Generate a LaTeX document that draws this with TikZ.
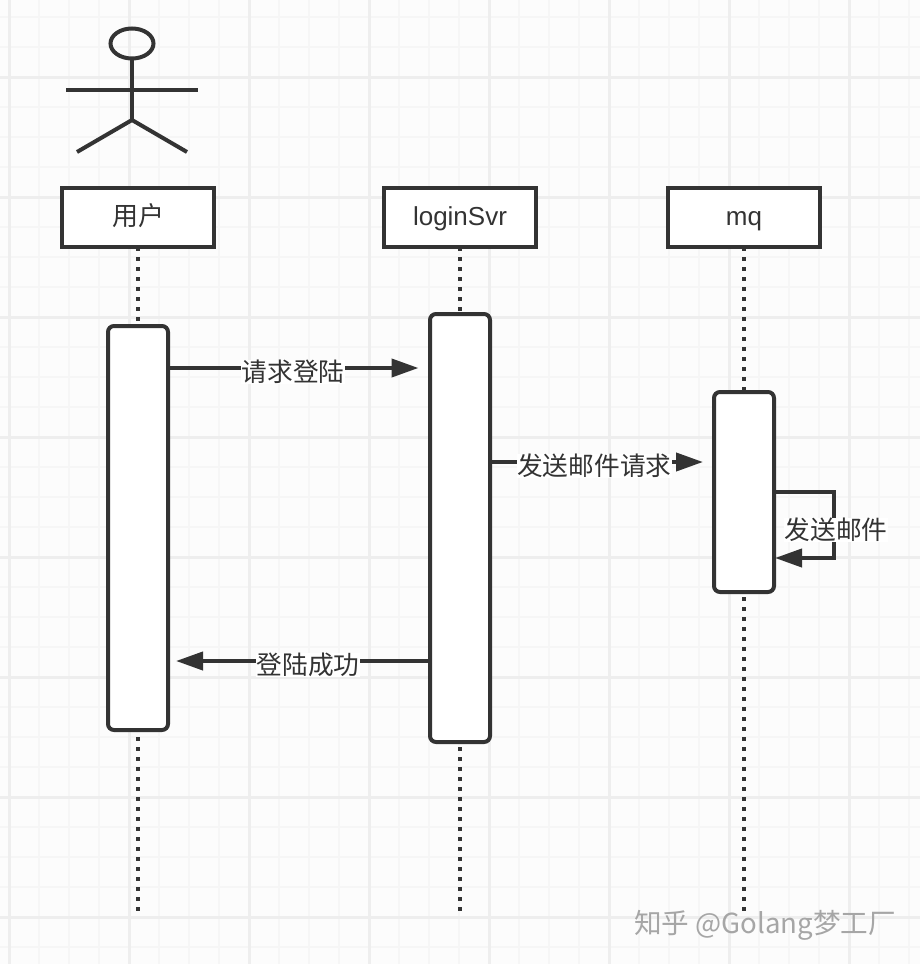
\documentclass[tikz,border=0pt]{standalone}
\usepackage{fontspec}
\setmainfont{Liberation Sans}
\newfontfamily\cjk{Noto Sans CJK SC}
\usetikzlibrary{arrows.meta,shapes.geometric}
\definecolor{inkgray}{HTML}{333333}
\definecolor{gridmajor}{HTML}{EEEEEE}
\definecolor{gridminor}{HTML}{F6F6F6}
\tikzset{
  headbox/.style={draw=inkgray, line width=4pt, fill=white, minimum width=152pt, minimum height=59pt, inner sep=0pt, outer sep=0pt, text=inkgray, text height=21pt, text depth=6pt, font=\fontsize{26}{30}\selectfont},
  actbar/.style={draw=inkgray, line width=4pt, fill=white, rounded corners=6pt, minimum width=60pt, inner sep=0pt, outer sep=0pt},
  lifeline/.style={draw=inkgray, line width=4pt, dash pattern=on 4pt off 6pt},
  msgline/.style={draw=inkgray, line width=4pt, -{Triangle[length=27pt,width=18pt]}},
  msglabel/.style={fill=white, text=inkgray, inner sep=0.5pt, yshift=-4pt, font=\fontsize{25.7}{30}\selectfont\cjk},
  stickline/.style={draw=inkgray, line width=4pt}
}
\begin{document}
\begin{tikzpicture}[x=1pt,y=-1pt]
   \useasboundingbox (0,0) rectangle (920,964);
   \fill[white!99!black] (0,0) rectangle (920,964);
   \foreach \x in {9,39,...,909} \draw[gridminor, line width=2pt] (\x,0) -- (\x,964);
   \foreach \y in {17,47,...,947} \draw[gridminor, line width=2pt] (0,\y) -- (920,\y);
   \foreach \x in {9,129,...,849} \draw[gridmajor, line width=3pt] (\x,0) -- (\x,964);
   \foreach \y in {77,197,...,917} \draw[gridmajor, line width=3pt] (0,\y) -- (920,\y);

   \node[stickline, ellipse, minimum width=43pt, minimum height=30pt, inner sep=0pt, outer sep=0pt] (head) at (132,43.5) {};
   \coordinate (hip) at (132,120);
   \coordinate (armL) at (66,90);
   \coordinate (armR) at (198,90);
   \coordinate (legL) at (77,152);
   \coordinate (legR) at (187,152);
   \draw[stickline] (head) -- (hip);
   \draw[stickline] (armL) -- (armR);
   \draw[stickline] (legL) -- (hip) -- (legR);

   \node[headbox] (userBox) at (138,217.5) {\cjk 用户};
   \node[headbox] (loginBox) at (460,217.5) {loginSvr};
   \node[headbox] (mqBox) at (744,217.5) {mq};

   \coordinate (userEnd) at (138,912);
   \coordinate (loginEnd) at (460,912);
   \coordinate (mqEnd) at (744,912);
   \draw[lifeline] (userBox.south) -- (userEnd);
   \draw[lifeline] (loginBox.south) -- (loginEnd);
   \draw[lifeline] (mqBox.south) -- (mqEnd);

   \node[actbar, minimum height=404pt] (userBar) at (138,528) {};
   \node[actbar, minimum height=428pt] (loginBar) at (460,528) {};
   \node[actbar, minimum height=200pt] (mqBar) at (744,492) {};

   \coordinate (reqEnd) at (418.5,368);
   \coordinate (mailEnd) at (703,462);
   \coordinate (okEnd) at (176,661);
   \coordinate (loopTop) at (834,492);
   \coordinate (loopBottom) at (834,558);
   \coordinate (loopEnd) at (775,558);

   \draw[msgline] (userBar.east |- reqEnd) -- node[msglabel] (reqLabel) {请求登陆} (reqEnd);
   \draw[msgline] (loginBar.east |- mailEnd) -- node[msglabel, pos=0.49] (mailLabel) {发送邮件请求} (mailEnd);
   \draw[msgline] (loginBar.west |- okEnd) -- node[msglabel, pos=0.48] (okLabel) {登陆成功} (okEnd);
   \draw[msgline] (mqBar.east |- loopTop) -- (loopTop) -- (loopBottom) -- (loopEnd);
   \node[msglabel, yshift=3pt] (loopLabel) at (836,529) {发送邮件};

   \node[text=black!35, font=\fontsize{27.6}{30}\selectfont\cjk] (watermark) at (765,925) {知乎 @Golang梦工厂};
\end{tikzpicture}
\end{document}
